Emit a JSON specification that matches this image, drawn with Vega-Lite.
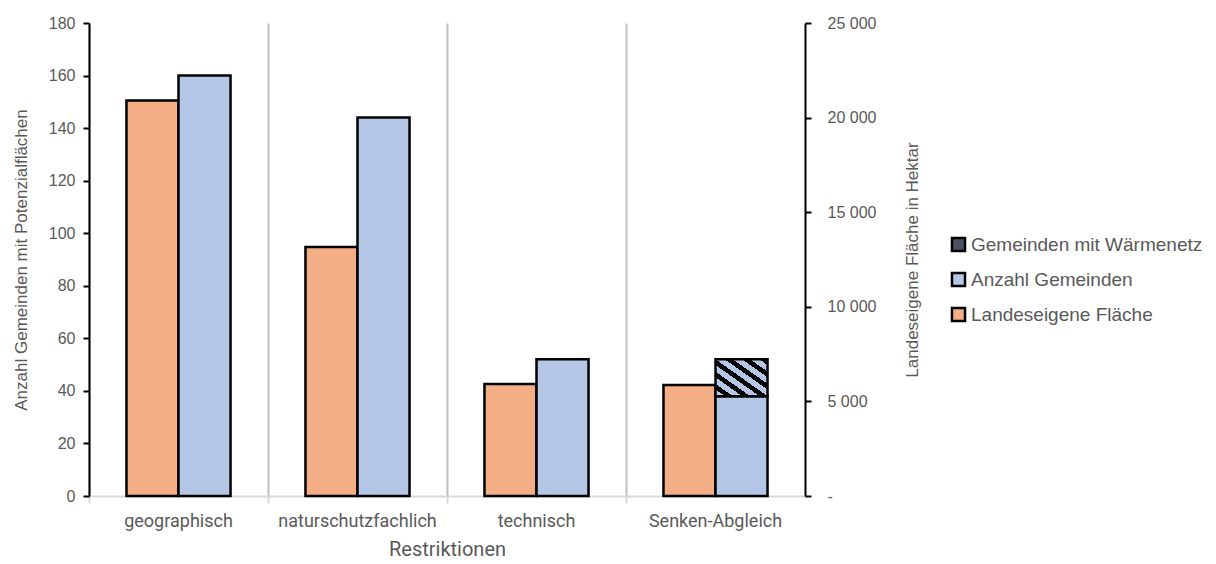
{
  "$schema": "https://vega.github.io/schema/vega-lite/v6.json",
  "autosize": "none",
  "width": 716,
  "height": 473,
  "padding": {"left": 89, "top": 23, "right": 411, "bottom": 68},
  "background": "white",
  "config": {
    "view": {"stroke": null},
    "font": "Liberation Sans",
    "axis": {"labelColor": "#595959", "titleColor": "#595959", "titleFontWeight": "normal", "labelFontSize": 16, "titleFontSize": 17}
  },
  "data": {
    "values": [
      {"Restriktion": "geographisch", "Reihe": "Landeseigene Fläche", "Gruppe": "a", "Wert": 20900},
      {"Restriktion": "naturschutzfachlich", "Reihe": "Landeseigene Fläche", "Gruppe": "a", "Wert": 13160},
      {"Restriktion": "technisch", "Reihe": "Landeseigene Fläche", "Gruppe": "a", "Wert": 5920},
      {"Restriktion": "Senken-Abgleich", "Reihe": "Landeseigene Fläche", "Gruppe": "a", "Wert": 5870},
      {"Restriktion": "geographisch", "Reihe": "Anzahl Gemeinden", "Gruppe": "b", "Wert": 160},
      {"Restriktion": "naturschutzfachlich", "Reihe": "Anzahl Gemeinden", "Gruppe": "b", "Wert": 144},
      {"Restriktion": "technisch", "Reihe": "Anzahl Gemeinden", "Gruppe": "b", "Wert": 52},
      {"Restriktion": "Senken-Abgleich", "Reihe": "Anzahl Gemeinden", "Gruppe": "b", "Wert": 38},
      {"Restriktion": "Senken-Abgleich", "Reihe": "Gemeinden mit Wärmenetz", "Gruppe": "b", "Wert": 14}
    ]
  },
  "encoding": {
    "x": {
      "field": "Restriktion",
      "type": "nominal",
      "sort": ["geographisch", "naturschutzfachlich", "technisch", "Senken-Abgleich"],
      "scale": {"paddingInner": 0, "paddingOuter": 0},
      "title": "Restriktionen",
      "axis": {
        "labelAngle": 0,
        "bandPosition": 0,
        "grid": true,
        "gridColor": "#BFBFBF",
        "gridWidth": 2,
        "domainColor": "#D9D9D9",
        "domainWidth": 2,
        "tickColor": "#D9D9D9",
        "tickWidth": 2,
        "tickSize": 7,
        "labelPadding": 9,
        "labelFont": "Roboto",
        "labelFontSize": 18,
        "titleFont": "Roboto",
        "titleFontSize": 20,
        "titlePadding": 9
      }
    },
    "xOffset": {
      "field": "Gruppe",
      "type": "nominal",
      "scale": {"paddingInner": 0, "paddingOuter": 0.72}
    }
  },
  "layer": [
    {
      "transform": [{"filter": "datum.Gruppe === 'a'"}],
      "mark": {"type": "bar", "stroke": "black", "strokeWidth": 2.5, "fillOpacity": 1},
      "encoding": {
        "y": {
          "field": "Wert",
          "type": "quantitative",
          "scale": {"domain": [0, 25000]},
          "title": "Landeseigene Fläche in Hektar",
          "axis": {
            "orient": "right",
            "values": [0, 5000, 10000, 15000, 20000, 25000],
            "labelExpr": "datum.value == 0 ? '-' : replace(format(datum.value, ','), ',', ' ')",
            "grid": false,
            "domainColor": "black",
            "domainWidth": 2,
            "tickColor": "black",
            "tickWidth": 2,
            "tickSize": 6,
            "labelPadding": 16,
            "titleAngle": 270,
            "titlePadding": 46
          }
        },
        "color": {
          "field": "Reihe",
          "type": "nominal",
          "scale": {
            "domain": ["Gemeinden mit Wärmenetz", "Anzahl Gemeinden", "Landeseigene Fläche"],
            "range": ["#4A5160", "#B4C7E7", "#F4AE86"]
          },
          "legend": {
            "title": null,
            "orient": "none",
            "legendX": 860,
            "legendY": 212,
            "symbolType": "square",
            "symbolSize": 170,
            "symbolStrokeColor": "black",
            "symbolStrokeWidth": 2.5,
            "symbolOpacity": 1,
            "labelFontSize": 19,
            "labelColor": "#595959",
            "labelOffset": 3,
            "labelLimit": 300,
            "rowPadding": 10,
            "encode": {
              "symbols": {
                "update": {
                  "stroke": {"value": "black"},
                  "strokeWidth": {"value": 2.5}
                }
              }
            }
          }
        }
      }
    },
    {
      "transform": [{"filter": "datum.Gruppe === 'b'"}],
      "mark": {"type": "bar", "stroke": "black", "strokeWidth": 2.5, "fillOpacity": 1},
      "encoding": {
        "y": {
          "field": "Wert",
          "type": "quantitative",
          "stack": "zero",
          "scale": {"domain": [0, 180]},
          "title": "Anzahl Gemeinden mit Potenzialflächen",
          "axis": {
            "orient": "left",
            "values": [0, 20, 40, 60, 80, 100, 120, 140, 160, 180],
            "grid": false,
            "domainColor": "black",
            "domainWidth": 2,
            "tickColor": "black",
            "tickWidth": 2,
            "tickSize": 6,
            "labelPadding": 8,
            "titlePadding": 18
          }
        },
        "color": {
          "condition": {
            "test": "datum.Reihe === 'Gemeinden mit Wärmenetz'",
            "value": {
              "gradient": "linear",
              "x1": 0, "y1": 1, "x2": 1, "y2": 0,
              "stops": [
                {"offset": 0, "color": "#B4C7E7"}, {"offset": 0.09, "color": "#B4C7E7"},
                {"offset": 0.09, "color": "#000000"}, {"offset": 0.1667, "color": "#000000"},
                {"offset": 0.1667, "color": "#B4C7E7"}, {"offset": 0.2567, "color": "#B4C7E7"},
                {"offset": 0.2567, "color": "#000000"}, {"offset": 0.3333, "color": "#000000"},
                {"offset": 0.3333, "color": "#B4C7E7"}, {"offset": 0.4233, "color": "#B4C7E7"},
                {"offset": 0.4233, "color": "#000000"}, {"offset": 0.5, "color": "#000000"},
                {"offset": 0.5, "color": "#B4C7E7"}, {"offset": 0.59, "color": "#B4C7E7"},
                {"offset": 0.59, "color": "#000000"}, {"offset": 0.6667, "color": "#000000"},
                {"offset": 0.6667, "color": "#B4C7E7"}, {"offset": 0.7567, "color": "#B4C7E7"},
                {"offset": 0.7567, "color": "#000000"}, {"offset": 0.8333, "color": "#000000"},
                {"offset": 0.8333, "color": "#B4C7E7"}, {"offset": 0.9233, "color": "#B4C7E7"},
                {"offset": 0.9233, "color": "#000000"}, {"offset": 1, "color": "#000000"}
              ]
            }
          },
          "field": "Reihe",
          "type": "nominal"
        },
        "order": {"field": "Reihe", "sort": "ascending"}
      }
    }
  ],
  "resolve": {"scale": {"y": "independent", "color": "shared"}}
}
